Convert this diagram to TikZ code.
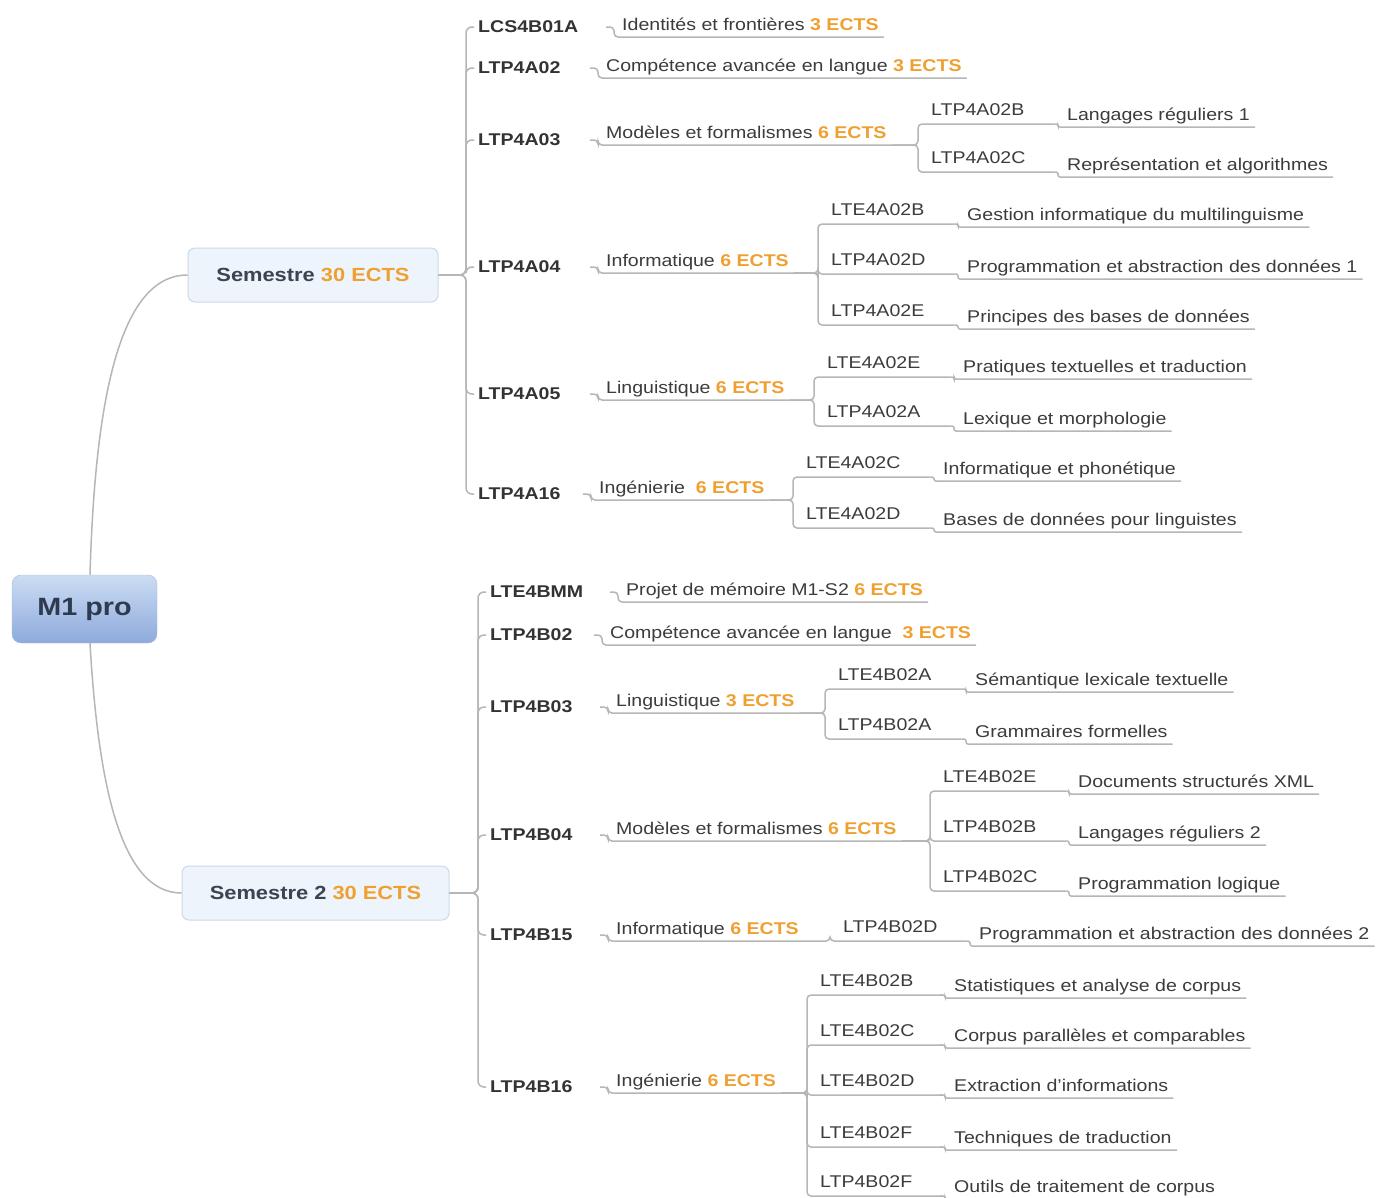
\documentclass[tikz,border=0pt]{standalone}
\usepackage{fontspec}
\setmainfont{Liberation Sans}[FakeStretch=1.15]
\usetikzlibrary{calc}
\definecolor{linegray}{HTML}{B6B6B6}
\definecolor{txt}{HTML}{3C3C3C}
\definecolor{codetxt}{HTML}{333333}
\definecolor{ectsorange}{HTML}{F0A030}
\definecolor{boxfill}{HTML}{EEF4FC}
\definecolor{boxdraw}{HTML}{CDD9E8}
\definecolor{roottop}{HTML}{CCDCF3}
\definecolor{rootbot}{HTML}{8DAADC}
\definecolor{rootdraw}{HTML}{A9BEDF}
\definecolor{roottxt}{HTML}{2E3A4E}
\definecolor{semtxt}{HTML}{3D4350}
\newcommand{\ectsc}[1]{\textcolor{ectsorange}{\bfseries #1 ECTS}}
\begin{document}
\begin{tikzpicture}[x=1pt,y=-1pt,
  conn/.style={draw=linegray, line width=1.5pt, rounded corners=4pt},
  curveconn/.style={draw=linegray, line width=1.5pt},
  rootbox/.style={rounded corners=9pt, top color=roottop, bottom color=rootbot, draw=rootdraw,
     minimum width=145pt, minimum height=68pt, text=roottxt,
     font=\fontsize{25}{28}\selectfont\bfseries},
  sembox/.style={rounded corners=7pt, fill=boxfill, draw=boxdraw, line width=1pt,
     minimum height=54pt, text=semtxt, font=\fontsize{19}{22}\selectfont\bfseries},
  code/.style={anchor=west, inner xsep=4pt, inner ysep=2pt, text=codetxt,
     font=\fontsize{17}{20}\selectfont\bfseries},
  title/.style={anchor=south west, inner xsep=5pt, inner ysep=2pt, text=txt,
     text height=12.5pt, text depth=4pt, font=\fontsize{17}{20}\selectfont},
  leaf/.style={title},
  sub/.style={title, text width=118pt, align=left, inner ysep=4pt}
]
\useasboundingbox (0,0) rectangle (1386,1197);
\fill[white] (0,0) rectangle (1386,1197);

% root and semesters
\node[rootbox] (R) at (84.5,609) {M1 pro};
\node[sembox, minimum width=250pt] (S1) at (313,275) {Semestre \textcolor{ectsorange}{30 ECTS}};
\node[sembox, minimum width=267pt] (S2) at (315.5,893) {Semestre 2 \textcolor{ectsorange}{30 ECTS}};

% ---------- Semestre 1 ----------
\node[code] (A1) at (474,27)  {LCS4B01A};
\node[code] (A2) at (474,68)  {LTP4A02};
\node[code] (A3) at (474,140) {LTP4A03};
\node[code] (A4) at (474,267) {LTP4A04};
\node[code] (A5) at (474,394) {LTP4A05};
\node[code] (A6) at (474,494) {LTP4A16};

\node[title] (I1) at (617,37)  {Identités et frontières \ectsc{3}};
\node[title] (I2) at (601,78)  {Compétence avancée en langue \ectsc{3}};
\node[title] (I3) at (601,145) {Modèles et formalismes \ectsc{6}};
\node[title] (I4) at (601,273) {Informatique \ectsc{6}};
\node[title] (I5) at (601,400) {Linguistique \ectsc{6}};
\node[title] (I6) at (594,500) {Ingénierie\ \ \ectsc{6}};

\node[sub] (C3a) at (926,124) {LTP4A02B};
\node[sub] (C3b) at (926,172) {LTP4A02C};
\node[sub] (C4a) at (826,224) {LTE4A02B};
\node[sub] (C4b) at (826,274) {LTP4A02D};
\node[sub] (C4c) at (826,325) {LTP4A02E};
\node[sub] (C5a) at (822,377) {LTE4A02E};
\node[sub] (C5b) at (822,426) {LTP4A02A};
\node[sub] (C6a) at (801,477) {LTE4A02C};
\node[sub] (C6b) at (801,528) {LTE4A02D};

\node[leaf] (L3a) at (1062,127) {Langages réguliers 1};
\node[leaf] (L3b) at (1062,177) {Représentation et algorithmes};
\node[leaf] (L4a) at (962,227)  {Gestion informatique du multilinguisme};
\node[leaf] (L4b) at (962,279)  {Programmation et abstraction des données 1};
\node[leaf] (L4c) at (962,329)  {Principes des bases de données};
\node[leaf] (L5a) at (958,379)  {Pratiques textuelles et traduction};
\node[leaf] (L5b) at (958,431)  {Lexique et morphologie};
\node[leaf] (L6a) at (938,481)  {Informatique et phonétique};
\node[leaf] (L6b) at (938,532)  {Bases de données pour linguistes};

% ---------- Semestre 2 ----------
\node[code] (B1) at (486,592)  {LTE4BMM};
\node[code] (B2) at (486,635)  {LTP4B02};
\node[code] (B3) at (486,707)  {LTP4B03};
\node[code] (B4) at (486,835)  {LTP4B04};
\node[code] (B5) at (486,935)  {LTP4B15};
\node[code] (B6) at (486,1087) {LTP4B16};

\node[title] (J1) at (621,602)  {Projet de mémoire M1-S2 \ectsc{6}};
\node[title] (J2) at (605,645)  {Compétence avancée en langue\ \ \ectsc{3}};
\node[title] (J3) at (611,713)  {Linguistique \ectsc{3}};
\node[title] (J4) at (611,841)  {Modèles et formalismes \ectsc{6}};
\node[title] (J5) at (611,941)  {Informatique \ectsc{6}};
\node[title] (J6) at (611,1093) {Ingénierie \ectsc{6}};

\node[sub] (D3a) at (833,689)  {LTE4B02A};
\node[sub] (D3b) at (833,739)  {LTP4B02A};
\node[sub] (D4a) at (938,791)  {LTE4B02E};
\node[sub] (D4b) at (938,841)  {LTP4B02B};
\node[sub] (D4c) at (938,891)  {LTP4B02C};
\node[sub] (D5)  at (838,941)  {LTP4B02D};
\node[sub] (D6a) at (815,995)  {LTE4B02B};
\node[sub] (D6b) at (815,1045) {LTE4B02C};
\node[sub] (D6c) at (815,1095) {LTE4B02D};
\node[sub] (D6d) at (815,1147) {LTE4B02F};
\node[sub] (D6e) at (815,1196) {LTP4B02F};

\node[leaf] (M3a) at (970,692)   {Sémantique lexicale textuelle};
\node[leaf] (M3b) at (970,744)   {Grammaires formelles};
\node[leaf] (M4a) at (1073,794)  {Documents structurés XML};
\node[leaf] (M4b) at (1073,845)  {Langages réguliers 2};
\node[leaf] (M4c) at (1073,896)  {Programmation logique};
\node[leaf] (M5)  at (974,946)   {Programmation et abstraction des données 2};
\node[leaf] (M6a) at (949,998)   {Statistiques et analyse de corpus};
\node[leaf] (M6b) at (949,1048)  {Corpus parallèles et comparables};
\node[leaf] (M6c) at (949,1098)  {Extraction d'informations};
\node[leaf] (M6d) at (949,1150)  {Techniques de traduction};
\node[leaf] (M6e) at (949,1199)  {Outils de traitement de corpus};

% ---------- connectors ----------
\draw[curveconn] ([xshift=5.5pt]R.north) .. controls +(5,-175) and +(-68,0) .. (S1.west);
\draw[curveconn] ([xshift=5.5pt]R.south) .. controls +(8,137) and +(-62,0) .. (S2.west);

\foreach \a in {A1,A2,A3,A4,A5,A6}
  \draw[conn, rounded corners=6pt] (S1.east) -| ([xshift=-8pt]\a.west) -- (\a.west);
\foreach \b in {B1,B2,B3,B4,B5,B6}
  \draw[conn, rounded corners=6pt] (S2.east) -| ([xshift=-8pt]\b.west) -- (\b.west);

% code -> title
\foreach \p/\t in {A1/I1,A2/I2,A3/I3,A4/I4,A5/I5,A6/I6,B1/J1,B2/J2,B3/J3,B4/J4,B5/J5,B6/J6}
  \draw[conn] ($(\t.south west |- \p.east)+(-11,0)$) -| ([xshift=-3pt]\t.south west) -- (\t.south east);

% title -> sub-code
\foreach \p/\c in {I3/C3a,I3/C3b,I4/C4a,I4/C4b,I4/C4c,I5/C5a,I5/C5b,I6/C6a,I6/C6b,
                   J3/D3a,J3/D3b,J4/D4a,J4/D4b,J4/D4c,J5/D5,J6/D6a,J6/D6b,J6/D6c,J6/D6d,J6/D6e}
  \draw[conn] (\p.south east) -| ([xshift=-8pt]\c.south west) -- (\c.south east);

% sub-code -> leaf
\foreach \p/\l in {C3a/L3a,C3b/L3b,C4a/L4a,C4b/L4b,C4c/L4c,C5a/L5a,C5b/L5b,C6a/L6a,C6b/L6b,
                   D3a/M3a,D3b/M3b,D4a/M4a,D4b/M4b,D4c/M4c,D5/M5,D6a/M6a,D6b/M6b,D6c/M6c,D6d/M6d,D6e/M6e}
  \draw[conn, rounded corners=2pt] (\p.south east) -| ([xshift=-4pt]\l.south west) -- (\l.south east);
\end{tikzpicture}
\end{document}
